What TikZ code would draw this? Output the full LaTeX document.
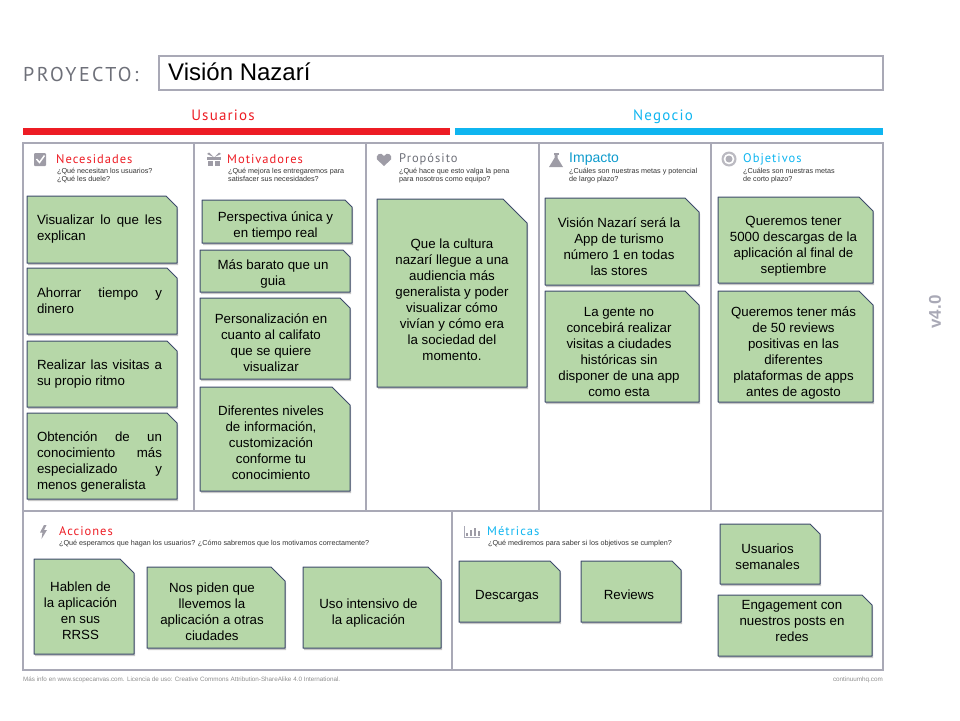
\documentclass[tikz,border=0pt]{standalone}
\usepackage{fontspec}
\setmainfont{Liberation Sans}
\newfontfamily\headfont[LetterSpace=8]{PT Sans}
\newfontfamily\widefont[LetterSpace=12]{PT Sans}
\usepackage{tikz}
\usetikzlibrary{shadows}

\definecolor{framegray}{HTML}{A9A9B6}
\definecolor{icongray}{HTML}{9E9CA6}
\definecolor{capgray}{HTML}{6E7079}
\definecolor{usered}{HTML}{ED1C24}
\definecolor{bizblue}{HTML}{0FB5F0}
\definecolor{cardgreen}{HTML}{B6D7A8}
\definecolor{cardline}{HTML}{3D4A6B}

\tikzset{
  frameline/.style={draw=framegray, line width=1.1pt},
  cardbody/.style={draw=cardline, line width=1pt, fill=cardgreen, line join=round,
    drop shadow={shadow xshift=1pt, shadow yshift=-2pt, opacity=.22, fill=black}},
  cardtext/.style={inner sep=0pt, align=center, font=\fontsize{13.3}{16}\selectfont},
  fulltext/.style={text width=125pt, align=justify, xshift=-2.5pt},
  headtext/.style={anchor=west, inner sep=0pt, font=\headfont\fontsize{12.5}{14}\selectfont},
  subtext/.style={anchor=north west, inner sep=0pt, align=left, text=black!80,
    font=\fontsize{7.2}{8}\selectfont},
  icon/.style={fill=icongray, draw=none}
}

% name, left, top, right, bottom, corner, text
\newcommand{\card}[8][]{
  \draw[cardbody] (#3,#4) -- ({#5-#7},#4) -- (#5,{#4+#7}) -- (#5,#6) -- (#3,#6) -- cycle;
  \node[cardtext,#1] (#2) at ({(#3+#5)/2},{(#4+#6)/2}) {#8};
}

\begin{document}
\begin{tikzpicture}[x=1pt,y=-1pt]

\useasboundingbox (0,0) rectangle (960,720);

% title
\node[anchor=west, inner sep=0pt, text=capgray, font=\widefont\fontsize{20}{22}\selectfont] (proyecto) at (23,74) {PROYECTO:};
\draw[frameline] (159,56) rectangle (883,90);
\node[anchor=west, inner sep=0pt, font=\fontsize{24}{27}\selectfont] (vision) at (168,72) {Visión Nazarí};

\node[anchor=base, inner sep=0pt, text=usered, font=\headfont\fontsize{15}{18}\selectfont] (usuarios) at (223,120) {Usuarios};
\node[anchor=base, inner sep=0pt, text=bizblue, font=\headfont\fontsize{15}{18}\selectfont] (negocio) at (663,120) {Negocio};
\fill[usered] (23,128) rectangle (450,135);
\fill[bizblue] (455,128) rectangle (883,135);

% frame
\draw[frameline] (23,143) rectangle (883,670);
\foreach \i in {194,366,539,711}
    \draw[frameline] (\i,143) -- (\i,511);
\draw[frameline] (23,511) -- (883,511);
\draw[frameline] (452,511) -- (452,670);

% icons
\fill[icon, rounded corners=1pt] (34,153) rectangle (46,166);
\draw[white, line width=1.5pt] (36.5,159) -- (39.5,162.5) -- (44.5,155.5);

\fill[icon] (207,157) rectangle (221,160);
\fill[icon] (208,161) rectangle (213,166);
\fill[icon] (215,161) rectangle (220,166);
\fill[icon] (213.5,157) -- (207,154) -- (209,152.5) -- cycle;
\fill[icon] (214.5,157) -- (221,154) -- (219,152.5) -- cycle;

\fill[icon] (384,166) -- (377,159.5) .. controls (375,155) and (381,151) .. (384,156)
    .. controls (387,151) and (393,155) .. (391,159.5) -- cycle;

\fill[icon] (553.5,153) rectangle (558.5,155);
\fill[icon] (554.5,155) -- (557.5,155) -- (557.5,158) -- (563,167) -- (549,167) -- (554.5,158) -- cycle;

\fill[icongray!70, even odd rule] (729,159) circle (7.5pt) (729,159) circle (5.5pt);
\fill[icongray!80] (729,159) circle (3.5pt);

\fill[icon] (44,525) -- (40,532.5) -- (42.5,532.5) -- (41.5,539) -- (47,530) -- (44,530) -- (46.5,525) -- cycle;

\draw[framegray, line width=1pt] (464,526) -- (464,537) -- (480,537);
\foreach \i/\j in {467/533,471/530,475/528,479/531}
    \draw[icongray, line width=1.2pt] (\i,536) -- (\i,\j);

% headings
\node[headtext, text=usered] (necesidades) at (56,159) {Necesidades};
\node[subtext] (necesidadessub) at (57,168) {¿Qué necesitan los usuarios?\\¿Qué les duele?};
\node[headtext, text=usered] (motivadores) at (227,159) {Motivadores};
\node[subtext] (motivadoressub) at (228,168) {¿Qué mejora les entregaremos para\\satisfacer sus necesidades?};
\node[headtext, text=capgray] (proposito) at (399,159) {Propósito};
\node[subtext] (propositosub) at (399,168) {¿Qué hace que esto valga la pena\\para nosotros como equipo?};
\node[headtext, text=bizblue!85!black, font=\fontsize{14}{16}\selectfont] (impacto) at (569,159) {Impacto};
\node[subtext] (impactosub) at (569,168) {¿Cuáles son nuestras metas y potencial\\de largo plazo?};
\node[headtext, text=bizblue] (objetivos) at (743,159) {Objetivos};
\node[subtext] (objetivossub) at (743,168) {¿Cuáles son nuestras metas\\de corto plazo?};
\node[headtext, text=usered] (acciones) at (59,531) {Acciones};
\node[subtext] (accionessub) at (59,540) {¿Qué esperamos que hagan los usuarios? ¿Cómo sabremos que los motivamos correctamente?};
\node[headtext, text=bizblue] (metricas) at (487,531) {Métricas};
\node[subtext] (metricassub) at (488,540) {¿Qué mediremos para saber si los objetivos se cumplen?};

% necesidades
\card[fulltext]{visualizar}{27}{196}{177}{263}{11}{Visualizar lo que les\linebreak explican}
\card[fulltext]{ahorrar}{27}{268}{177}{334}{10}{Ahorrar tiempo y\linebreak dinero}
\card[fulltext]{visitas}{27}{341}{177}{407}{10}{Realizar las visitas a\linebreak su propio ritmo}
\card[fulltext,yshift=-6pt]{obtencion}{27}{413}{177}{499}{10}{Obtención de un\linebreak conocimiento más\linebreak especializado y\linebreak menos generalista}

% motivadores
\card[xshift=-1.5pt,yshift=-4pt]{perspectiva}{202}{200}{352}{243}{7}{Perspectiva única y\\en tiempo real}
\card[xshift=-2pt,yshift=-3pt]{barato}{200}{250}{350}{292}{7}{Más barato que un\\guia}
\card[xshift=-4pt,yshift=-4pt]{calificato}{200}{298}{350}{379}{10}{Personalización en\\cuanto al califato\\que se quiere\\visualizar}
\card[xshift=-4pt,yshift=-4pt]{niveles}{200}{387}{350}{491}{18}{Diferentes niveles\\de información,\\customización\\conforme tu\\conocimiento}

% proposito
\card[yshift=-7pt]{cultura}{377}{199}{527}{387}{24}{Que la cultura\\nazarí llegue a una\\audiencia más\\generalista y poder\\visualizar cómo\\vivían y cómo era\\la sociedad del\\momento.}

% impacto
\card[xshift=-3pt,yshift=-5pt]{turismo}{545}{198}{699}{285}{14}{Visión Nazarí será la\\App de turismo\\número 1 en todas\\las stores}
\card[xshift=-3pt,yshift=-5pt]{concebira}{545}{291}{699}{402}{14}{La gente no\\concebirá realizar\\visitas a ciudades\\históricas sin\\disponer de una app\\como esta}

% objetivos
\card[xshift=-2pt,yshift=-6pt]{descargas}{718}{197}{873}{283}{14}{Queremos tener\\5000 descargas de la\\aplicación al final de\\septiembre}
\card[xshift=-2pt,yshift=-6pt]{reviews}{718}{291}{873}{402}{14}{Queremos tener más\\de 50 reviews\\positivas en las\\diferentes\\plataformas de apps\\antes de agosto}

% acciones
\card[xshift=-3.5pt,yshift=-4pt]{hablen}{34}{559}{134}{654}{14}{Hablen de\\la aplicación\\en sus\\RRSS}
\card[xshift=-4pt,yshift=-4pt]{piden}{147}{567}{285}{648}{14}{Nos piden que\\llevemos la\\aplicación a otras\\ciudades}
\card[xshift=-3.5pt,yshift=-6pt]{intensivo}{303}{567}{441}{648}{13}{Uso intensivo de\\la aplicación}

% metricas
\card[xshift=-2.5pt,yshift=-5pt]{descargasm}{459}{561}{560}{622}{10}{Descargas}
\card[xshift=-2pt,yshift=-3pt]{reviewsm}{581}{561}{681}{622}{9}{Reviews}
\card[xshift=-2.5pt,yshift=-3pt]{semanales}{720}{524}{820}{584}{10}{Usuarios\\semanales}
\card[xshift=-3pt,yshift=5pt]{engagement}{718}{595}{872}{656}{10}{Engagement con\\nuestros posts en\\redes}

% footer
\node[inner sep=0pt, rotate=90, text=framegray, font=\bfseries\fontsize{17}{19}\selectfont] (version) at (935,312) {v4.0};
\node[anchor=west, inner sep=0pt, text=black!45, font=\fontsize{6.3}{7}\selectfont] (masinfo) at (23,680) {Más info en www.scopecanvas.com. Licencia de uso: Creative Commons Attribution-ShareAlike 4.0 International.};
\node[anchor=east, inner sep=0pt, text=black!45, font=\fontsize{6.3}{7}\selectfont] (continuum) at (883,680) {continuumhq.com};

\end{tikzpicture}
\end{document}
